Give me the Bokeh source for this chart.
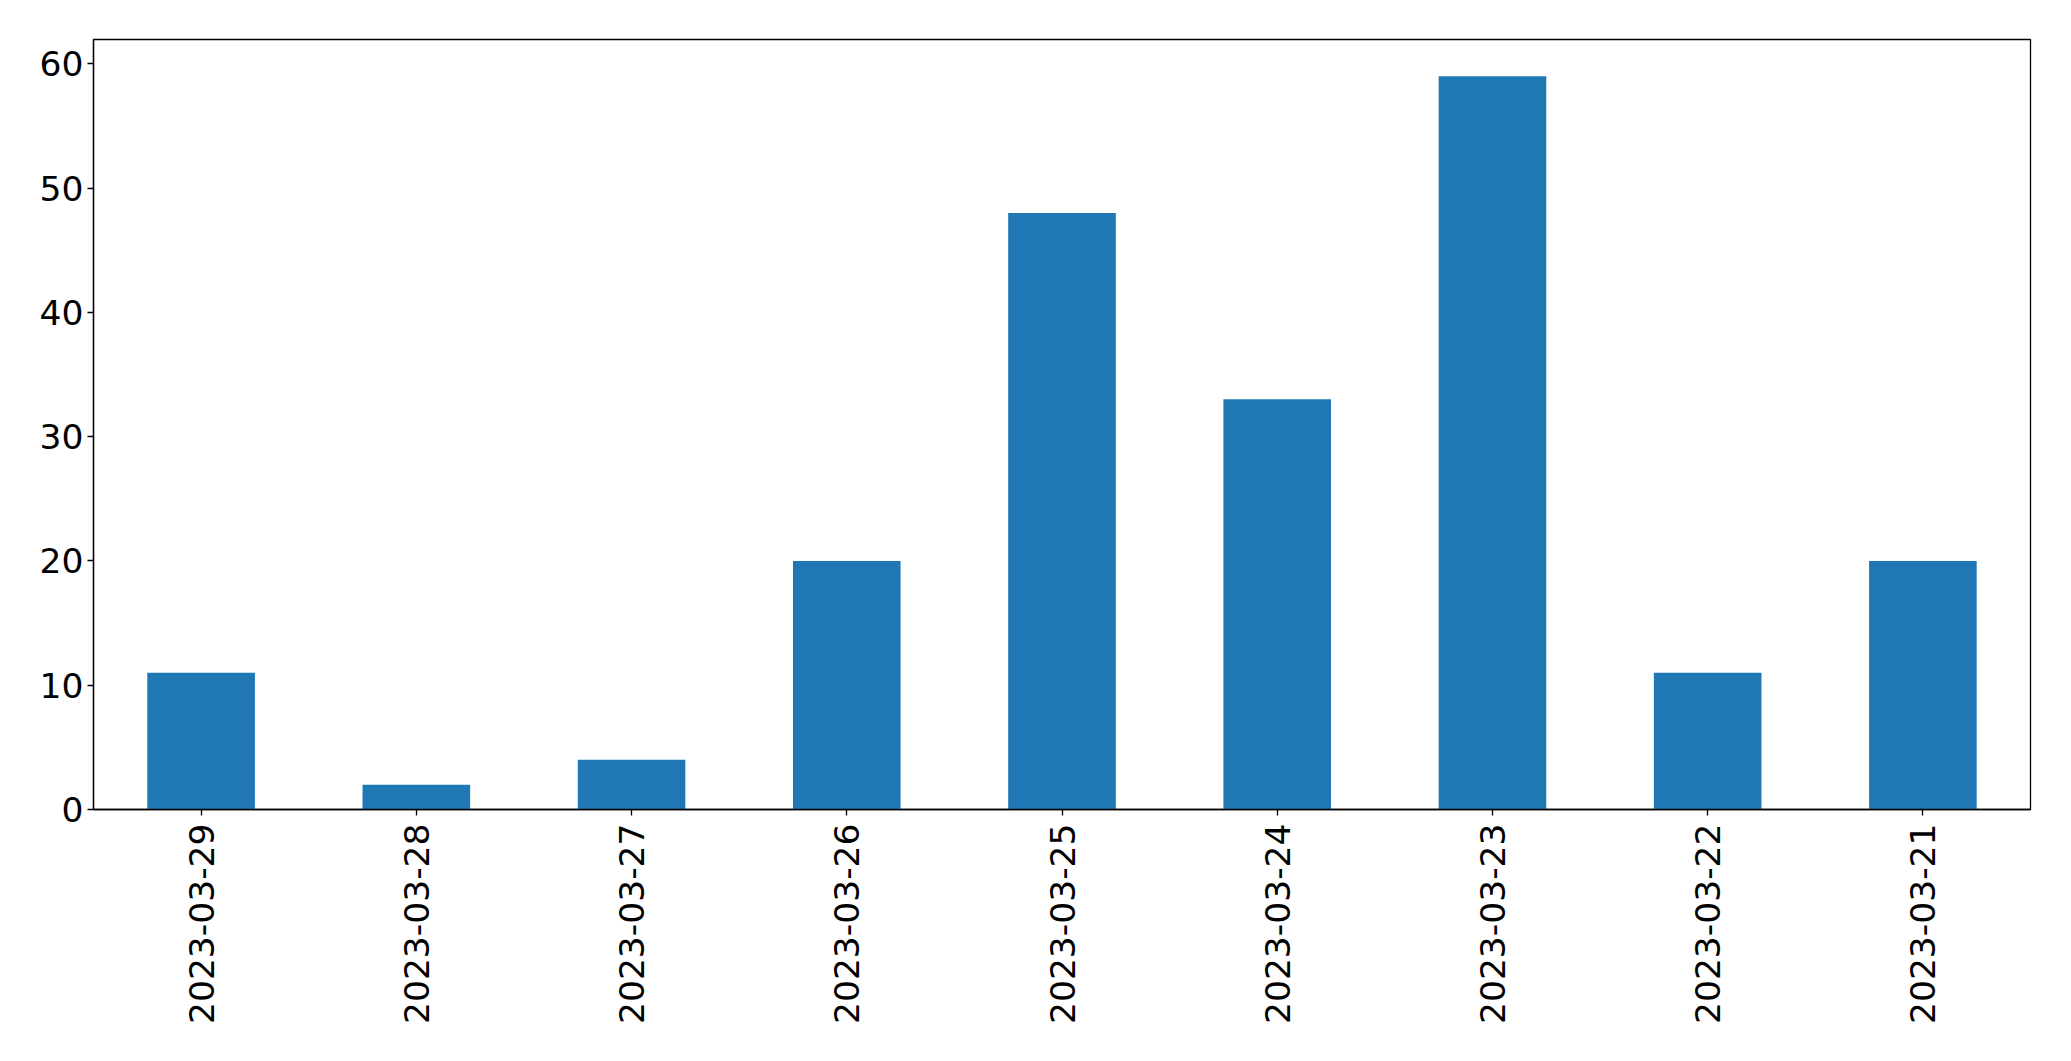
import math
from bokeh.plotting import figure
from bokeh.models import ColumnDataSource, FactorRange, Range1d, FixedTicker
from bokeh.embed import file_html
from bokeh.resources import INLINE

dates = ["2023-03-29", "2023-03-28", "2023-03-27", "2023-03-26", "2023-03-25",
         "2023-03-24", "2023-03-23", "2023-03-22", "2023-03-21"]
counts = [11, 2, 4, 20, 48, 33, 59, 11, 20]
y_ticks = [0, 10, 20, 30, 40, 50, 60]

source = ColumnDataSource(data=dict(date=dates, count=counts))

p = figure(
    x_range=FactorRange(*dates, range_padding=0),
    y_range=Range1d(0, max(counts) * 1.05),
    width=2055, height=1045,
    output_backend="svg", toolbar_location=None,
    min_border_left=93, min_border_right=25, min_border_top=39, min_border_bottom=236,
)
p.vbar(x="date", top="count", width=0.5, source=source,
       fill_color="#1f77b4", line_color=None)

p.xgrid.visible = False
p.ygrid.visible = False
p.outline_line_color = "black"
p.outline_line_width = 1.3
p.outline_line_alpha = 1.0

p.yaxis.ticker = FixedTicker(ticks=y_ticks)
p.yaxis.minor_tick_line_color = None

for ax in (p.xaxis[0], p.yaxis[0]):
    ax.major_label_text_font = "DejaVu Sans"
    ax.major_label_text_font_size = "34.5px"
    ax.major_label_text_color = "black"
    ax.axis_line_color = "black"
    ax.axis_line_width = 1.3
    ax.major_tick_line_color = "black"
    ax.major_tick_line_width = 1.3
    ax.major_tick_out = 6
    ax.major_tick_in = 0

p.xaxis.major_label_standoff = 8
p.yaxis.major_label_standoff = 4
p.xaxis.major_label_orientation = math.pi / 2

open("out.html", "w").write(file_html(p, INLINE))
